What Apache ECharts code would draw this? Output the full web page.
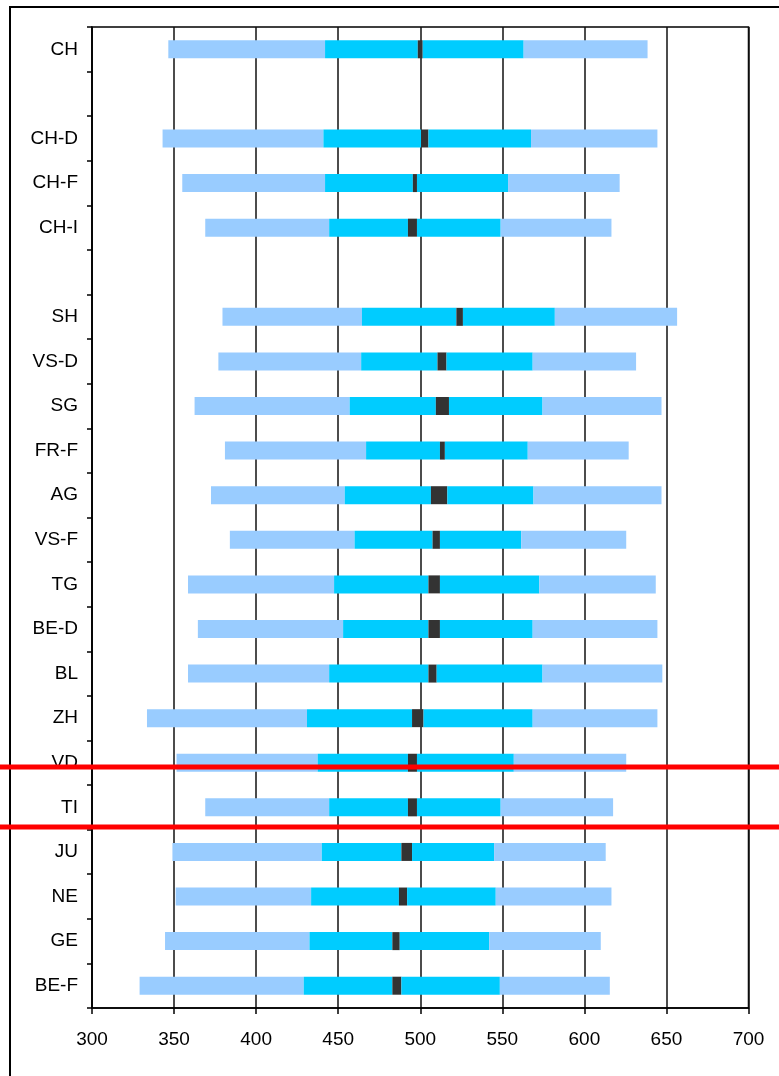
<!DOCTYPE html>
<html>
<head>
<meta charset="utf-8">
<script src="https://cdn.jsdelivr.net/npm/echarts@6/dist/echarts.min.js"></script>
<style>
  html, body { margin: 0; padding: 0; background: #fff; }
  #chart { width: 779px; height: 1076px; }
</style>
</head>
<body>
<div id="chart"></div>
<script>
// Rows (top to bottom); empty strings are spacer rows
const categories = ['CH', '', 'CH-D', 'CH-F', 'CH-I', '', 'SH', 'VS-D', 'SG', 'FR-F', 'AG',
  'VS-F', 'TG', 'BE-D', 'BL', 'ZH', 'VD', 'TI', 'JU', 'NE', 'GE', 'BE-F'];

// 5th percentile
const p5 = [346.5, null, 343, 355, 369, null, 379.5, 377, 362.5, 381, 372.5,
  384, 358.5, 364.5, 358.5, 333.5, 351.5, 369, 349, 351, 344.5, 329];
// 25th percentile
const p25 = [442, null, 441, 442, 444.5, null, 464.5, 464, 457, 467, 454,
  460, 447.5, 453, 444.5, 431, 437.5, 444.5, 440, 433.5, 432.5, 429];
// confidence interval of the mean: lower bound
const ciLow = [498.5, null, 500.5, 495.5, 492.5, null, 522, 510.5, 509.5, 512, 506.5,
  507.5, 505, 505, 505, 495, 492.5, 492.5, 488.5, 487, 483, 483];
// confidence interval of the mean: upper bound
const ciHigh = [501.5, null, 505, 498, 498, null, 526, 516, 517.5, 515, 516.5,
  512, 512, 512, 510, 502, 498, 498, 495, 492, 487.5, 488.5];
// 75th percentile
const p75 = [563, null, 567.5, 553.5, 549, null, 582, 568.5, 574.5, 565.5, 569,
  561.5, 572.5, 568.5, 574.5, 568.5, 557, 549, 545, 546, 542, 548.5];
// 95th percentile
const p95 = [638.5, null, 644.5, 621.5, 616.5, null, 656.5, 631.5, 647, 627, 647,
  625.5, 643.5, 644.5, 647.5, 644.5, 625.5, 617.5, 613, 616.5, 610, 615.5];

const xTicks = [300, 350, 400, 450, 500, 550, 600, 650, 700];

function diff(hi, lo) {
  return hi.map((v, i) => (v == null || lo[i] == null) ? null : +(v - lo[i]).toFixed(2));
}

const LIGHT = '#99ccff', CYAN = '#00ccff', DARK = '#333333';
const FONT = '"Liberation Sans", Arial, sans-serif';

function seg(name, data, color) {
  return {
    name, type: 'bar', stack: 'dist', data, barWidth: 18,
    itemStyle: { color }, silent: true
  };
}

const chart = echarts.init(document.getElementById('chart'), null, { renderer: 'canvas' });
chart.setOption({
  animation: false,
  backgroundColor: '#fff',
  grid: {
    left: 92, right: 30.5, top: 27, bottom: 68,
    show: true, borderColor: '#000', borderWidth: 1.5, backgroundColor: 'transparent'
  },
  xAxis: {
    type: 'value',
    min: xTicks[0], max: xTicks[xTicks.length - 1], interval: 50,
    axisLine: { show: true, lineStyle: { color: '#000', width: 1.5 } },
    axisTick: { show: true, length: 6, lineStyle: { color: '#000', width: 1.5 } },
    axisLabel: { fontSize: 19, color: '#000', fontFamily: FONT, margin: 22 },
    splitLine: { show: true, lineStyle: { color: '#111', width: 1.5 } }
  },
  yAxis: {
    type: 'category',
    inverse: true,
    data: categories,
    axisLine: { show: true, lineStyle: { color: '#000', width: 1.5 } },
    axisTick: { show: true, length: 5, interval: 0, lineStyle: { color: '#000', width: 1.5 } },
    axisLabel: { interval: 0, fontSize: 19, color: '#000', fontFamily: FONT, margin: 14 },
    splitLine: { show: false }
  },
  series: [
    seg('base', p5, 'rgba(0,0,0,0)'),
    seg('p5-p25', diff(p25, p5), LIGHT),
    seg('p25-ci', diff(ciLow, p25), CYAN),
    seg('ci', diff(ciHigh, ciLow), DARK),
    seg('ci-p75', diff(p75, ciHigh), CYAN),
    seg('p75-p95', diff(p95, p75), LIGHT)
  ],
  graphic: [
    {
      type: 'rect', z: 50, silent: true,
      shape: { x: 10, y: 7, width: 900, height: 1200 },
      style: { fill: 'none', stroke: '#000', lineWidth: 2 }
    },
    {
      type: 'line', z: 100, silent: true,
      shape: { x1: 0, y1: 767, x2: 779, y2: 767 },
      style: { stroke: '#ff0000', lineWidth: 5 }
    },
    {
      type: 'line', z: 100, silent: true,
      shape: { x1: 0, y1: 827, x2: 779, y2: 827 },
      style: { stroke: '#ff0000', lineWidth: 5 }
    }
  ]
});
</script>
</body>
</html>
